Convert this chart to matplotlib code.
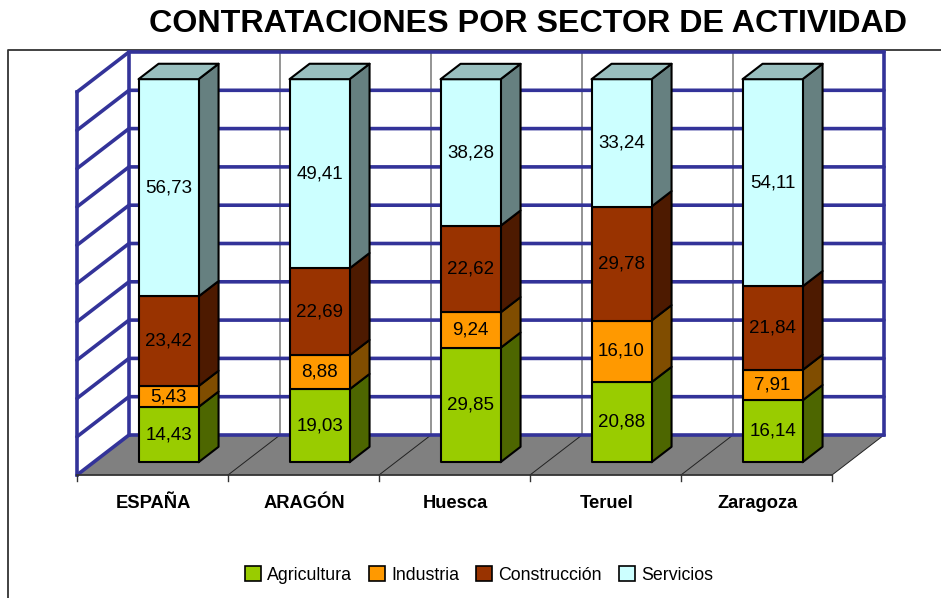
import matplotlib
matplotlib.use("Agg")
import matplotlib.pyplot as plt
from matplotlib.patches import Patch, Polygon

plt.rcParams['font.family'] = ['Liberation Sans', 'DejaVu Sans']

regions = ['ESPAÑA', 'ARAGÓN', 'Huesca', 'Teruel', 'Zaragoza']
series = ['Agricultura', 'Industria', 'Construcción', 'Servicios']
agricultura = [14.43, 19.03, 29.85, 20.88, 16.14]
industria = [5.43, 8.88, 9.24, 16.10, 7.91]
construccion = [23.42, 22.69, 22.62, 29.78, 21.84]
servicios = [56.73, 49.41, 38.28, 33.24, 54.11]
values = [agricultura, industria, construccion, servicios]
labels = [['14,43', '19,03', '29,85', '20,88', '16,14'],
          ['5,43', '8,88', '9,24', '16,10', '7,91'],
          ['23,42', '22,69', '22,62', '29,78', '21,84'],
          ['56,73', '49,41', '38,28', '33,24', '54,11']]

front = ['#99CC00', '#FF9900', '#993300', '#CCFFFF']
side = ['#4D6600', '#804D00', '#4D1A00', '#668080']
top = ['#739900', '#BF7300', '#732600', '#99BFBF']
blue = '#333399'

# 3d look: 1 category = 151 px, 100 % = 383 px
PX_X = 151.0
PX_Y = 3.83
DX = 52 / PX_X    # depth of the wall
DY = 40 / PX_Y
BAR_W = 60 / PX_X
GAP = 0.32        # where the bar starts in the depth
DEPTH = 0.385     # bar depth

fig = plt.figure(figsize=(9.41, 5.98), dpi=100)
ax = fig.add_axes([0, 0, 1, 1])
ax.set_xlim(-77 / PX_X, (941 - 77) / PX_X)
ax.set_ylim(-(598 - 475) / PX_Y, 475 / PX_Y)
ax.axis('off')

n = len(regions)

# outer chart frame
ax.plot([-69 / PX_X, -69 / PX_X, 864 / PX_X], [-123 / PX_Y, 425 / PX_Y, 425 / PX_Y],
        color='#333333', lw=1.3, clip_on=False)

# floor
ax.add_patch(Polygon([(0, 0), (n, 0), (n + DX, DY), (DX, DY)], fc='#808080', ec='none', zorder=1))
for i in range(1, n + 1):
    ax.plot([i, i + DX], [0, DY], color='#222222', lw=0.7, zorder=2)

# walls
for i in range(1, n):
    ax.plot([i + DX, i + DX], [DY, 100 + DY], color='#777777', lw=1.1, zorder=2)
for g in range(0, 101, 10):
    ax.plot([0, DX, n + DX], [g, g + DY, g + DY], color=blue, lw=2.6, zorder=2,
            solid_capstyle='round', solid_joinstyle='round')
ax.plot([0, 0], [0, 100], color=blue, lw=2.6, zorder=2)
ax.plot([DX, DX], [DY, 100 + DY], color=blue, lw=2.6, zorder=2)
ax.plot([n + DX, n + DX], [DY, 100 + DY], color=blue, lw=2.6, zorder=2)

# x axis
ax.plot([0, n], [0, 0], color='#333333', lw=1.3, zorder=3)
for i in range(n + 1):
    ax.plot([i, i], [0, -6 / PX_Y], color='#333333', lw=1.0, zorder=3)

# stacked bars
dx = DX * DEPTH
dy = DY * DEPTH
for i in range(n):
    x0 = i + 0.5 + DX * GAP - BAR_W / 2 - 0.004
    x1 = x0 + BAR_W
    base = DY * GAP
    for s in range(len(series)):
        v = values[s][i]
        y1 = base + v
        ax.add_patch(Polygon([(x1, base), (x1 + dx, base + dy), (x1 + dx, y1 + dy), (x1, y1)],
                             fc=side[s], ec='black', lw=1.5, joinstyle='round', zorder=4))
        ax.add_patch(Polygon([(x0, base), (x1, base), (x1, y1), (x0, y1)],
                             fc=front[s], ec='black', lw=1.5, joinstyle='round', zorder=4))
        ax.text((x0 + x1) / 2, base + v / 2, labels[s][i], ha='center', va='center',
                fontsize=13.5, color='black', zorder=5)
        base = y1
    ax.add_patch(Polygon([(x0, base), (x1, base), (x1 + dx, base + dy), (x0 + dx, base + dy)],
                         fc=top[3], ec='black', lw=1.5, joinstyle='round', zorder=4))

# category labels
for i, name in enumerate(regions):
    ax.text(i + 0.507, -28 / PX_Y, name, ha='center', va='center', fontsize=13.2, fontweight='bold')

fig.text(528 / 941, 1 - 24 / 598, 'CONTRATACIONES POR SECTOR DE ACTIVIDAD', ha='center', va='center',
         fontsize=23.2, fontweight='bold')

handles = [Patch(fc=front[s], ec='black', lw=1.2) for s in range(len(series))]
ax.legend(handles, series, loc='center', bbox_to_anchor=(479 / 941, 1 - 575 / 598), ncol=4,
          frameon=False, fontsize=12.8, handlelength=0.9, handleheight=0.9,
          handletextpad=0.35, columnspacing=0.95, borderpad=0)

fig.savefig('out.png', dpi=100)
